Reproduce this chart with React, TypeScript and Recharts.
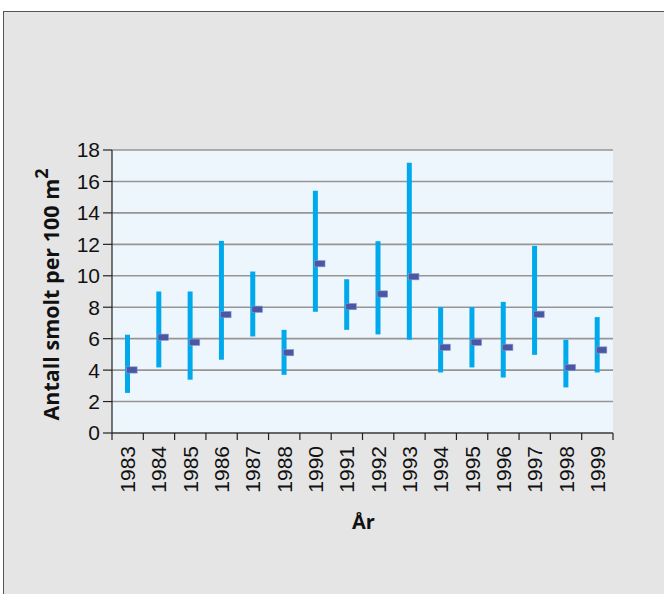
import React from "react";
import {
  ComposedChart,
  Bar,
  Scatter,
  XAxis,
  YAxis,
  CartesianGrid,
} from "recharts";

// Smolt density per year: min–max range and mean (per 100 m²)
const years = ["1983", "1984", "1985", "1986", "1987", "1988", "1990", "1991", "1992", "1993", "1994", "1995", "1996", "1997", "1998", "1999"];
const lowValues = [2.55, 4.17, 3.39, 4.66, 6.14, 3.7, 7.71, 6.56, 6.27, 5.93, 3.85, 4.17, 3.53, 4.97, 2.9, 3.85];
const highValues = [6.25, 9.0, 9.0, 12.22, 10.27, 6.56, 15.41, 9.78, 12.2, 17.19, 8.0, 8.0, 8.34, 11.9, 5.93, 7.37];
const meanValues = [4.02, 6.1, 5.78, 7.54, 7.88, 5.12, 10.78, 8.05, 8.85, 9.95, 5.46, 5.78, 5.46, 7.56, 4.17, 5.29];
const yTicks = [0, 2, 4, 6, 8, 10, 12, 14, 16, 18];

const data = years.map((year, i) => ({
  year,
  range: [lowValues[i], highValues[i]],
  mean: meanValues[i],
}));

const WIDTH = 664;
const HEIGHT = 594;
const MARGIN = { top: 150, right: 51, bottom: 0, left: 0 };
const Y_AXIS_WIDTH = 112;
const PLOT_WIDTH = WIDTH - MARGIN.left - MARGIN.right - Y_AXIS_WIDTH;
const BAND = PLOT_WIDTH / years.length;

const tickFont = "'Liberation Sans Narrow', 'Arial Narrow', 'Liberation Sans', sans-serif";
const labelFont = "'Open Sans', 'Noto Sans', sans-serif";

const XTick = (props: any) => {
  const { x, y, payload, index } = props;
  const half = BAND / 2;
  const isLast = index === years.length - 1;
  return (
    <g>
      <line x1={x - half} y1={y} x2={x - half} y2={y + 7} stroke="#222" strokeWidth={1.2} />
      {isLast && (
        <line x1={x + half} y1={y} x2={x + half} y2={y + 7} stroke="#222" strokeWidth={1.2} />
      )}
      <text
        x={x}
        y={y + 13}
        transform={`rotate(-90 ${x} ${y + 13})`}
        textAnchor="end"
        dominantBaseline="central"
        fontFamily={tickFont}
        fontSize={21}
        fill="#111"
      >
        {payload.value}
      </text>
    </g>
  );
};

const MeanMarker = (props: any) => {
  const { cx, cy } = props;
  if (cx == null || cy == null) return null;
  return <rect x={cx - 1} y={cy - 3} width={10.5} height={6.3} fill="#4a57a4" stroke="#8d97cc" strokeWidth={0.6} />;
};

const YLabel = (props: any) => {
  const { viewBox } = props;
  const cx = viewBox.x + 50;
  const cy = viewBox.y + viewBox.height / 2 + 3;
  return (
    <text
      x={cx}
      y={cy}
      transform={`rotate(-90 ${cx} ${cy})`}
      textAnchor="middle"
      dominantBaseline="central"
      fontFamily={labelFont}
      fontWeight={700}
      fontSize={21.5}
      fill="#111"
    >
      <tspan>Antall smolt per 100 m</tspan>
      <tspan dy={-9} fontSize={18}>2</tspan>
    </text>
  );
};

const XLabel = (props: any) => {
  const { viewBox } = props;
  const cx = viewBox.x + viewBox.width / 2 + 1;
  return (
    <text
      x={cx}
      y={viewBox.y + 96}
      textAnchor="middle"
      fontFamily={labelFont}
      fontWeight={700}
      fontSize={20}
      fill="#111"
    >
      År
    </text>
  );
};

export default function App() {
  return (
    <div style={{ position: "absolute", left: 0, top: 0, width: WIDTH, height: HEIGHT, background: "#ffffff", overflow: "hidden" }}>
      <div
        style={{
          position: "absolute",
          left: 3,
          top: 11,
          width: WIDTH - 3,
          height: HEIGHT - 11,
          background: "#e5e5e5",
          borderLeft: "1px solid #555",
          borderTop: "1px solid #555",
          boxSizing: "border-box",
        }}
      />
      <div style={{ position: "absolute", left: 0, top: 0 }}>
        <ComposedChart width={WIDTH} height={HEIGHT} data={data} margin={MARGIN}>
          <CartesianGrid vertical={false} fill="#eef6fd" stroke="#959595" strokeWidth={1.6} />
          <XAxis
            dataKey="year"
            height={161}
            tickLine={false}
            tickSize={0}
            tickMargin={0}
            interval={0}
            stroke="#222"
            strokeWidth={1.2}
            tick={<XTick />}
            label={<XLabel />}
          />
          <YAxis
            width={Y_AXIS_WIDTH}
            domain={[0, 18]}
            ticks={yTicks}
            interval={0}
            tickSize={9}
            tickMargin={3}
            stroke="#222"
            strokeWidth={1.2}
            tick={{ fontFamily: tickFont, fontSize: 21, fill: "#111" }}
            label={<YLabel />}
          />
          <Bar dataKey="range" barSize={5} fill="#00a9ec" isAnimationActive={false} />
          <Scatter dataKey="mean" shape={<MeanMarker />} isAnimationActive={false} />
        </ComposedChart>
      </div>
    </div>
  );
}
